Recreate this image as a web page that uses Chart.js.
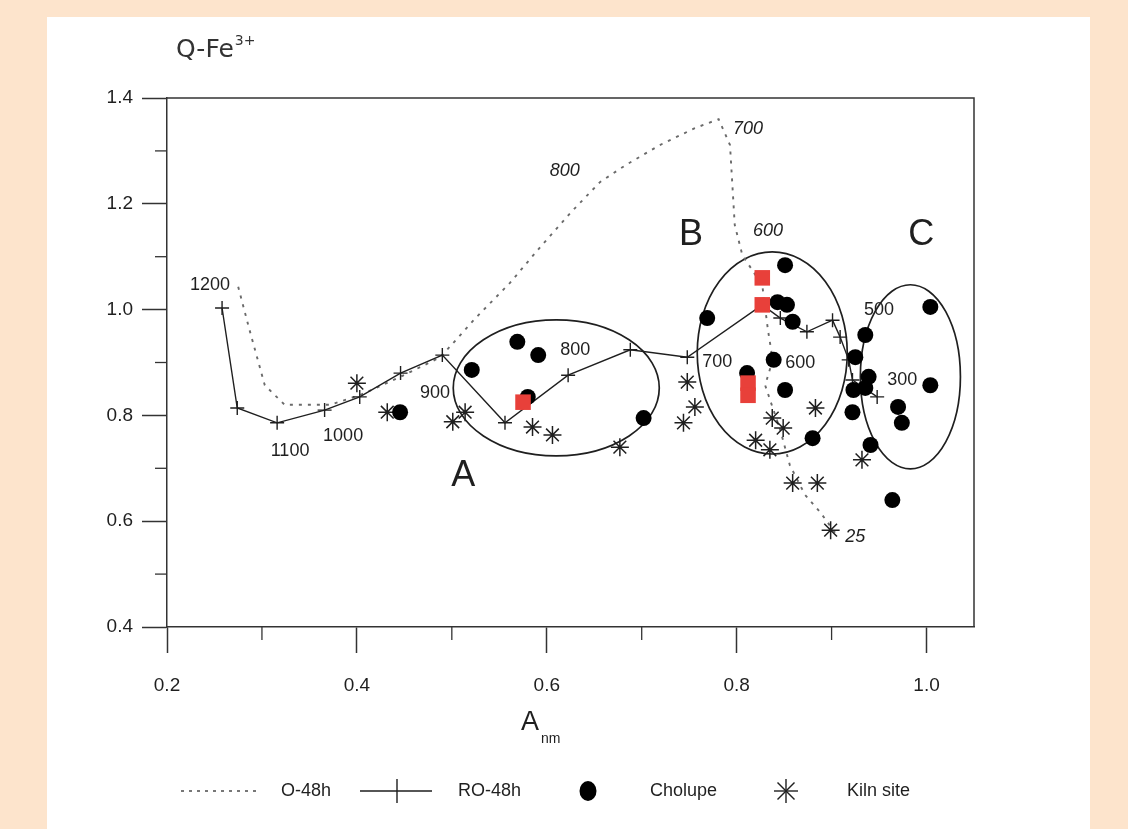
<!DOCTYPE html>
<html><head><meta charset="utf-8">
<script src="https://cdn.jsdelivr.net/npm/chart.js@4.4.1/dist/chart.umd.min.js"></script>
<style>html,body{margin:0;padding:0;background:#fde4cc;} canvas{display:block;}</style>
</head><body>
<canvas id="c" width="1128" height="829"></canvas>
<script>
// ---- data ----
const xTicks = [0.2, 0.4, 0.6, 0.8, 1.0];
const yTicks = [0.4, 0.6, 0.8, 1.0, 1.2, 1.4];
const xMinor = [0.3, 0.5, 0.7, 0.9];
const yMinor = [0.5, 0.7, 0.9, 1.1, 1.3];

const o48X = [0.275, 0.287, 0.303, 0.324, 0.372, 0.404, 0.446, 0.488, 0.525, 0.561, 0.593, 0.625, 0.656, 0.683, 0.719, 0.756, 0.781, 0.793, 0.798, 0.806, 0.827, 0.833, 0.838, 0.830, 0.846, 0.856, 0.872, 0.888, 0.905];
const o48Y = [1.043, 0.961, 0.857, 0.820, 0.820, 0.839, 0.873, 0.910, 0.984, 1.050, 1.118, 1.183, 1.241, 1.273, 1.311, 1.343, 1.360, 1.311, 1.160, 1.103, 1.046, 0.961, 0.905, 0.857, 0.772, 0.706, 0.650, 0.617, 0.575];

const ro48X = [0.258, 0.274, 0.316, 0.366, 0.403, 0.446, 0.490, 0.556, 0.6225, 0.688, 0.748, 0.827, 0.846, 0.874, 0.901, 0.909, 0.918, 0.922, 0.948];
const ro48Y = [1.003, 0.814, 0.786, 0.810, 0.835, 0.880, 0.914, 0.786, 0.876, 0.924, 0.910, 1.009, 0.984, 0.958, 0.980, 0.948, 0.905, 0.867, 0.835];

const cholX = [0.4455, 0.521, 0.569, 0.591, 0.580, 0.702, 0.769, 0.851, 0.843, 0.853, 0.859, 0.839, 0.811, 0.851, 0.880, 0.9355, 0.925, 0.939, 0.923, 0.9355, 0.922, 0.941, 0.970, 0.974, 1.004, 1.004, 0.964];
const cholY = [0.806, 0.886, 0.939, 0.914, 0.835, 0.795, 0.984, 1.084, 1.014, 1.009, 0.977, 0.905, 0.880, 0.848, 0.757, 0.952, 0.910, 0.873, 0.848, 0.852, 0.806, 0.744, 0.816, 0.786, 0.857, 1.005, 0.640];

const kilnX = [0.400, 0.432, 0.501, 0.514, 0.585, 0.606, 0.677, 0.748, 0.756, 0.744, 0.883, 0.8375, 0.849, 0.820, 0.835, 0.859, 0.885, 0.899, 0.932];
const kilnY = [0.861, 0.806, 0.788, 0.806, 0.778, 0.763, 0.740, 0.863, 0.816, 0.786, 0.814, 0.795, 0.776, 0.753, 0.735, 0.672, 0.672, 0.583, 0.716];

const redX = [0.575, 0.827, 0.827, 0.812, 0.812];
const redY = [0.825, 1.060, 1.009, 0.861, 0.838];

// temperature labels
const oLabelText = ['800', '700', '600', '25'];
const oLabelX = [0.619, 0.812, 0.833, 0.925];
const oLabelY = [1.262, 1.341, 1.149, 0.570];
const roLabelText = ['1200', '1100', '1000', '900', '800', '700', '600', '500', '300'];
const roLabelX = [0.2453, 0.3296, 0.3855, 0.4824, 0.630, 0.7796, 0.867, 0.950, 0.9745];
const roLabelY = [1.0465, 0.7327, 0.761, 0.842, 0.924, 0.901, 0.899, 0.999, 0.867];

// groups
const groupText = ['A', 'B', 'C'];
const groupX = [0.512, 0.752, 0.9945];
const groupY = [0.6855, 1.141, 1.141];
const ellCX = [0.610, 0.8375, 0.983];
const ellCY = [0.852, 0.918, 0.873];
const ellRX = [0.1085, 0.079, 0.0527];
const ellRY = [0.1285, 0.191, 0.174];

const zip = (xs, ys) => xs.map((x, i) => ({x: x, y: ys[i]}));

const INK = '#1f1f1f';
const FONT = '"Liberation Sans", Arial, sans-serif';

const decor = {
  id: 'decor',
  beforeDraw(chart) {
    const c = chart.ctx;
    c.save();
    c.fillStyle = '#fde4cc';
    c.fillRect(0, 0, chart.width, chart.height);
    c.fillStyle = '#ffffff';
    c.fillRect(47, 17, 1043, 812);
    c.restore();
  },
  beforeDatasetsDraw(chart) {
    const c = chart.ctx, xs = chart.scales.x, ys = chart.scales.y;
    c.save();
    c.strokeStyle = INK; c.lineWidth = 1.7;
    for (let i = 0; i < ellCX.length; i++) {
      const cx = xs.getPixelForValue(ellCX[i]), cy = ys.getPixelForValue(ellCY[i]);
      const rx = Math.abs(xs.getPixelForValue(ellCX[i] + ellRX[i]) - cx);
      const ry = Math.abs(ys.getPixelForValue(ellCY[i] + ellRY[i]) - cy);
      c.beginPath(); c.ellipse(cx, cy, rx, ry, 0, 0, Math.PI * 2); c.stroke();
    }
    c.restore();
  },
  afterDraw(chart) {
    const c = chart.ctx, xs = chart.scales.x, ys = chart.scales.y, a = chart.chartArea;
    c.save();
    // frame top/right
    c.strokeStyle = '#333'; c.lineWidth = 1.5;
    c.beginPath(); c.moveTo(a.left, a.top); c.lineTo(a.right, a.top); c.lineTo(a.right, a.bottom); c.stroke();
    // minor ticks
    c.lineWidth = 1.3;
    xMinor.forEach(v => { const p = xs.getPixelForValue(v); c.beginPath(); c.moveTo(p, a.bottom); c.lineTo(p, a.bottom + 13); c.stroke(); });
    yMinor.forEach(v => { const p = ys.getPixelForValue(v); c.beginPath(); c.moveTo(a.left, p); c.lineTo(a.left - 12, p); c.stroke(); });
    // title
    c.fillStyle = '#333'; c.textBaseline = 'alphabetic'; c.textAlign = 'left';
    c.font = '25px "DejaVu Sans", sans-serif';
    c.fillText('Q-Fe', 176, 57);
    const w = c.measureText('Q-Fe').width;
    c.font = '14px "DejaVu Sans", sans-serif';
    c.fillText('3+', 176 + w + 1, 45);
    // x title
    c.fillStyle = INK;
    c.font = '27px ' + FONT;
    c.fillText('A', 521, 730);
    c.font = '14px ' + FONT;
    c.fillText('nm', 541, 743);
    // temperature labels
    c.textAlign = 'center'; c.textBaseline = 'middle';
    c.font = 'italic 18px ' + FONT;
    oLabelText.forEach((t, i) => c.fillText(t, xs.getPixelForValue(oLabelX[i]), ys.getPixelForValue(oLabelY[i])));
    c.font = '18px ' + FONT;
    roLabelText.forEach((t, i) => c.fillText(t, xs.getPixelForValue(roLabelX[i]), ys.getPixelForValue(roLabelY[i])));
    c.font = '36px ' + FONT;
    groupText.forEach((t, i) => c.fillText(t, xs.getPixelForValue(groupX[i]), ys.getPixelForValue(groupY[i])));
    // legend
    const ly = 791;
    const ds = chart.data.datasets;
    c.textAlign = 'left'; c.font = '18px ' + FONT; c.fillStyle = INK;
    c.strokeStyle = '#777'; c.lineWidth = 1.8; c.setLineDash([3, 5]);
    c.beginPath(); c.moveTo(181, ly); c.lineTo(258, ly); c.stroke();
    c.setLineDash([]);
    c.fillText(ds[0].label, 281, ly);
    c.strokeStyle = INK; c.lineWidth = 1.4;
    c.beginPath(); c.moveTo(360, ly); c.lineTo(432, ly); c.moveTo(397, ly - 12); c.lineTo(397, ly + 12); c.stroke();
    c.fillText(ds[1].label, 458, ly);
    c.fillStyle = '#000';
    c.beginPath(); c.ellipse(588, ly, 8.5, 10, 0, 0, Math.PI * 2); c.fill();
    c.fillStyle = INK;
    c.fillText(ds[2].label, 650, ly);
    c.lineWidth = 1.4;
    for (let k = 0; k < 4; k++) {
      const ang = k * Math.PI / 4, r = 12;
      c.beginPath(); c.moveTo(786 - r * Math.cos(ang), ly - r * Math.sin(ang)); c.lineTo(786 + r * Math.cos(ang), ly + r * Math.sin(ang)); c.stroke();
    }
    c.fillText(ds[3].label, 847, ly);
    c.restore();
  }
};

new Chart(document.getElementById('c'), {
  type: 'scatter',
  data: {
    datasets: [
      { label: 'O-48h', data: zip(o48X, o48Y), showLine: true, borderColor: '#6a6a6a', borderWidth: 1.9, borderDash: [3, 6], pointRadius: 0, fill: false, order: 5 },
      { label: 'RO-48h', data: zip(ro48X, ro48Y), showLine: true, borderColor: INK, borderWidth: 1.4, pointStyle: 'cross', pointRadius: 7, pointBorderWidth: 1.4, pointBorderColor: INK, backgroundColor: INK, fill: false, order: 4 },
      { label: 'Cholupe', data: zip(cholX, cholY), pointStyle: 'circle', pointRadius: 8, backgroundColor: '#000', borderColor: '#000', pointBorderWidth: 0, order: 2 },
      { label: 'Kiln site', data: zip(kilnX, kilnY), pointStyle: 'star', pointRadius: 9, borderColor: INK, backgroundColor: INK, pointBorderWidth: 1.5, order: 3 },
      { label: 'Samples', data: zip(redX, redY), pointStyle: 'rect', pointRadius: 11, backgroundColor: '#e8403a', borderColor: '#e8403a', pointBorderWidth: 0, order: 1 }
    ]
  },
  options: {
    responsive: false,
    animation: false,
    layout: { padding: { left: 0, top: 98, right: 154, bottom: 102 } },
    plugins: { legend: { display: false }, tooltip: { enabled: false }, title: { display: false } },
    scales: {
      x: {
        type: 'linear', min: 0.2, max: 1.05,
        afterBuildTicks: s => { s.ticks = xTicks.map(v => ({ value: v })); },
        afterFit: s => { s.height = 100; },
        grid: { drawOnChartArea: false, drawTicks: true, tickLength: 26, tickColor: '#333', tickWidth: 1.5 },
        border: { display: true, color: '#333', width: 1.5 },
        ticks: { autoSkip: false, maxRotation: 0, padding: 21, color: INK, font: { family: FONT, size: 19 }, callback: v => Number(v).toFixed(1) }
      },
      y: {
        type: 'linear', min: 0.4, max: 1.4,
        afterBuildTicks: s => { s.ticks = yTicks.map(v => ({ value: v })); },
        afterFit: s => { s.width = 167; },
        grid: { drawOnChartArea: false, drawTicks: true, tickLength: 25, tickColor: '#333', tickWidth: 1.5 },
        border: { display: true, color: '#333', width: 1.5 },
        ticks: { autoSkip: false, padding: 9, color: INK, font: { family: FONT, size: 19 }, callback: v => Number(v).toFixed(1) }
      }
    }
  },
  plugins: [decor]
});
</script>
</body></html>
